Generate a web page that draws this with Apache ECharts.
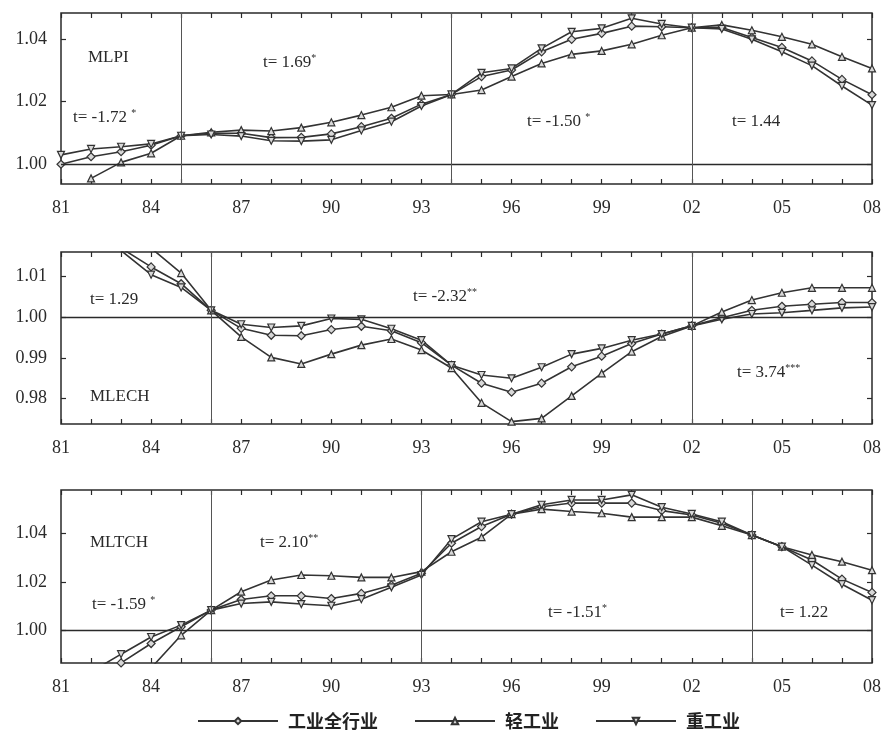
<!DOCTYPE html>
<html>
<head>
<meta charset="utf-8">
<script src="https://cdn.jsdelivr.net/npm/echarts@6/dist/echarts.min.js"></script>
<style>
  html, body { margin: 0; padding: 0; background: #fff; }
  #chart { width: 884px; height: 737px; }
</style>
</head>
<body>
<div id="chart"></div>
<script>
// annees 1981-2008, libellees sur deux chiffres
const years = ["81","82","83","84","85","86","87","88","89","90","91","92","93","94",
  "95","96","97","98","99","00","01","02","03","04","05","06","07","08"];
const seriesNames = ["工业全行业", "轻工业", "重工业"];

// MLPI
const mlpiAll = [1.0000,1.0024,1.0040,1.0061,1.0091,1.0099,1.0099,1.0085,1.0086,1.0097,1.0120,1.0147,1.0192,1.0223,
  1.0280,1.0301,1.0359,1.0399,1.0418,1.0441,1.0439,1.0436,1.0437,1.0405,1.0373,1.0330,1.0271,1.0222];
const mlpiLight = [null,0.9955,1.0006,1.0035,1.0091,1.0102,1.0109,1.0106,1.0117,1.0134,1.0157,1.0182,1.0219,1.0223,
  1.0237,1.0280,1.0322,1.0351,1.0362,1.0383,1.0412,1.0436,1.0445,1.0428,1.0407,1.0383,1.0343,1.0306];
const mlpiHeavy = [1.0030,1.0049,1.0056,1.0065,1.0091,1.0095,1.0090,1.0075,1.0074,1.0078,1.0108,1.0136,1.0186,1.0223,
  1.0292,1.0306,1.0370,1.0423,1.0434,1.0466,1.0448,1.0436,1.0432,1.0399,1.0359,1.0315,1.0250,1.0189];

// MLECH
const mlechAll = [null,null,1.0168,1.0122,1.0081,1.0016,0.9972,0.9955,0.9954,0.9969,0.9977,0.9966,0.9937,0.9882,
  0.9838,0.9816,0.9838,0.9878,0.9904,0.9935,0.9958,0.9978,0.9998,1.0016,1.0026,1.0031,1.0035,1.0035];
const mlechLight = [null,null,null,1.0168,1.0107,1.0016,0.9951,0.9901,0.9885,0.9909,0.9931,0.9946,0.9919,0.9875,
  0.9790,0.9744,0.9752,0.9807,0.9862,0.9915,0.9952,0.9978,1.0012,1.0041,1.0059,1.0071,1.0071,1.0071];
const mlechHeavy = [null,null,1.0162,1.0103,1.0072,1.0016,0.9982,0.9974,0.9978,0.9996,0.9994,0.9971,0.9943,0.9882,
  0.9858,0.9850,0.9877,0.9909,0.9923,0.9943,0.9958,0.9978,0.9994,1.0007,1.0010,1.0016,1.0022,1.0024];

// MLTCH
const mltchAll = [null,null,0.9865,0.9945,1.0014,1.0083,1.0127,1.0142,1.0142,1.0131,1.0152,1.0186,1.0235,1.0359,
  1.0428,1.0479,1.0510,1.0525,1.0525,1.0525,1.0494,1.0476,1.0442,1.0393,1.0345,1.0290,1.0211,1.0156];
const mltchLight = [null,null,null,0.9844,0.9979,1.0083,1.0159,1.0207,1.0228,1.0225,1.0218,1.0218,1.0242,1.0324,
  1.0384,1.0479,1.0500,1.0490,1.0483,1.0467,1.0467,1.0467,1.0431,1.0393,1.0345,1.0311,1.0283,1.0248];
const mltchHeavy = [null,0.9828,0.9901,0.9972,1.0021,1.0083,1.0110,1.0117,1.0108,1.0101,1.0128,1.0177,1.0228,1.0376,
  1.0448,1.0479,1.0518,1.0538,1.0538,1.0559,1.0508,1.0480,1.0448,1.0393,1.0345,1.0269,1.0190,1.0124];

// bornes des axes y et graduations
const yRanges = [[0.9937, 1.0483], [0.97383, 1.01585], [0.98646, 1.0579]];
const yTicks = [[1.00, 1.02, 1.04], [0.98, 0.99, 1.00, 1.01], [1.00, 1.02, 1.04]];
const breakYears = [["85", "94", "02"], ["86", "02"], ["86", "93", "04"]];

const panelData = [
  [mlpiAll, mlpiLight, mlpiHeavy],
  [mlechAll, mlechLight, mlechHeavy],
  [mltchAll, mltchLight, mltchHeavy]
];

const SERIF = "'Liberation Serif', 'DejaVu Serif', serif";
const INK = "#2a2a2a";
const grids = [
  { left: 61, top: 13, width: 817, height: 171 },
  { left: 61, top: 252, width: 817, height: 172 },
  { left: 61, top: 490, width: 817, height: 173 }
];

const symbols = [
  { symbol: "diamond", symbolSize: 8, symbolRotate: 0 },
  { symbol: "triangle", symbolSize: 7, symbolRotate: 0 },
  { symbol: "triangle", symbolSize: 7, symbolRotate: 180 }
];

const xAxis = [];
const yAxis = [];
const series = [];

grids.forEach((g, p) => {
  const tick = { show: true, inside: true, length: 5, interval: 0, lineStyle: { color: INK, width: 1.2 } };
  xAxis.push({
    gridIndex: p, type: "category", data: years, boundaryGap: false, position: "bottom",
    axisLine: { show: false }, axisTick: tick,
    axisLabel: { interval: 2, fontFamily: SERIF, fontSize: 18, color: INK, margin: 15 }
  });
  xAxis.push({
    gridIndex: p, type: "category", data: years, boundaryGap: false, position: "top",
    axisLine: { show: false }, axisTick: tick, axisLabel: { show: false }
  });
  const yTick = { show: true, inside: true, length: 5, customValues: yTicks[p], lineStyle: { color: INK, width: 1.2 } };
  yAxis.push({
    gridIndex: p, type: "value", min: yRanges[p][0], max: yRanges[p][1], position: "left",
    axisLine: { show: false }, splitLine: { show: false }, axisTick: yTick,
    axisLabel: { customValues: yTicks[p], formatter: (v) => v.toFixed(2), fontFamily: SERIF, fontSize: 18, color: INK, margin: 14 }
  });
  yAxis.push({
    gridIndex: p, type: "value", min: yRanges[p][0], max: yRanges[p][1], position: "right",
    axisLine: { show: false }, splitLine: { show: false }, axisTick: yTick,
    axisLabel: { show: false, customValues: yTicks[p] }
  });

  panelData[p].forEach((vals, k) => {
    const s = {
      name: seriesNames[k], type: "line", xAxisIndex: 2 * p, yAxisIndex: 2 * p,
      data: vals, clip: true, connectNulls: false,
      symbol: symbols[k].symbol, symbolSize: symbols[k].symbolSize, symbolRotate: symbols[k].symbolRotate,
      showAllSymbol: true,
      lineStyle: { color: "#333", width: 1.6 },
      itemStyle: { color: "#d8d8d8", borderColor: "#333", borderWidth: 1.2 },
      z: 3
    };
    if (k === 0) {
      s.markLine = {
        silent: true, symbol: ["none", "none"], label: { show: false },
        data: [{ yAxis: 1.0, lineStyle: { color: INK, width: 1.4, type: "solid" } }]
          .concat(breakYears[p].map((y) => ({ xAxis: years.indexOf(y), lineStyle: { color: "#555", width: 1, type: "solid" } })))
      };
    }
    series.push(s);
  });
});

// annotations : [texte principal, etoiles, x, y]
const notes = [
  ["MLPI", "", 88, 58], ["t= -1.72 ", "*", 73, 118], ["t= 1.69", "*", 263, 63],
  ["t= -1.50 ", "*", 527, 122], ["t= 1.44", "", 732, 122],
  ["t= 1.29", "", 90, 300], ["MLECH", "", 90, 397], ["t= -2.32", "**", 413, 297], ["t= 3.74", "***", 737, 373],
  ["MLTCH", "", 90, 543], ["t= 2.10", "**", 260, 543], ["t= -1.59 ", "*", 92, 605],
  ["t= -1.51", "*", 548, 613], ["t= 1.22", "", 780, 613]
];

const graphic = notes.map(([main, star, x, y]) => ({
  type: "text", x, y, silent: true,
  style: {
    text: star ? `{m|${main}}{s|${star}}` : `{m|${main}}`,
    verticalAlign: "middle", align: "left",
    rich: {
      m: { fontFamily: SERIF, fontSize: 17, fill: INK, color: INK, lineHeight: 20 },
      s: { fontFamily: SERIF, fontSize: 10, fill: INK, color: INK, verticalAlign: "top", lineHeight: 20 }
    }
  }
}));

const chart = echarts.init(document.getElementById("chart"));
chart.setOption({
  animation: false,
  backgroundColor: "#fff",
  grid: grids.map((g) => Object.assign({ show: true, borderColor: INK, borderWidth: 1.5, backgroundColor: "transparent" }, g)),
  xAxis, yAxis, series, graphic,
  legend: {
    data: seriesNames, left: 192, top: 707,
    itemWidth: 80, itemHeight: 8, itemGap: 36,
    textStyle: { fontFamily: "'Noto Sans CJK SC', sans-serif", fontSize: 18, fontWeight: "bold", color: "#222", padding: [0, 0, 0, 5] }
  }
});
</script>
</body>
</html>
